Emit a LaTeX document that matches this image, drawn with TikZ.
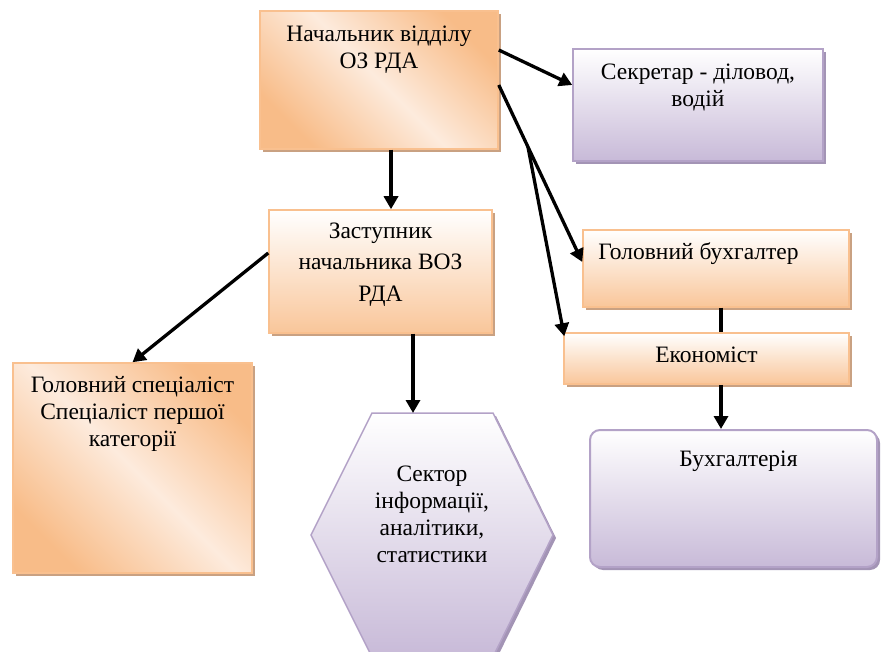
\documentclass[tikz,border=0pt]{standalone}
\usepackage{fontspec}
\setmainfont{Liberation Serif}
\usepackage{xcolor}
\usepackage{tikz}
\usetikzlibrary{shapes,arrows,positioning,calc,shadows,arrows.meta}

\definecolor{orgline}{HTML}{F9C08F}
\definecolor{orgdeep}{HTML}{F8BC88}
\definecolor{orglight}{HTML}{FDEBDD}
\definecolor{orgshadow}{HTML}{C9A182}
\definecolor{purline}{HTML}{B3A2C7}
\definecolor{purdeep}{HTML}{C8BAD8}
\definecolor{purshadow}{HTML}{A394B5}

\tikzset{
  obox/.style={rectangle, draw=orgline, line width=1.5pt,
    drop shadow={shadow xshift=3pt, shadow yshift=-3pt, fill=orgshadow, opacity=1}},
  odiag/.style={obox, top color=orgdeep, bottom color=orgdeep, middle color=orglight, shading angle=-45},
  overt/.style={obox, top color=white, bottom color=orgdeep!85},
  pshape/.style={draw=purline, line width=1.5pt, top color=white, bottom color=purdeep,
    drop shadow={shadow xshift=3pt, shadow yshift=-3pt, fill=purshadow, opacity=1}},
  pbox/.style={rectangle, pshape},
  lbl/.style={font=\fontsize{23.5}{27}\selectfont, align=center, inner sep=0pt, anchor=base},
  link/.style={line width=3.3pt, -{Triangle[length=13pt,width=14pt]}},
}

\begin{document}
\begin{tikzpicture}[x=1pt,y=-1pt]
    \useasboundingbox (0,0) rectangle (881,652);

    % Boxes
    \node[odiag, minimum width=238, minimum height=138] (head) at (379,80) {};
    \node[pbox, minimum width=250, minimum height=112] (secr) at (698,105) {};
    \node[overt, minimum width=223, minimum height=123] (zast) at (380.5,271.5) {};
    \node[overt, minimum width=266, minimum height=77] (gbuh) at (716,268.5) {};
    \node[overt, minimum width=285, minimum height=51] (econ) at (706.5,358.5) {};
    \node[odiag, minimum width=239, minimum height=210] (gspec) at (132.5,468) {};
    \node[pbox, rounded corners=10pt, line width=2pt, minimum width=287, minimum height=137] (buh) at (733.5,498.5) {};

    % Sector: hexagon, cut by the page edge
    \begin{scope}
        \clip (0,0) rectangle (881,652);
        \draw[pshape] (372,413) -- (493,413) -- (553,535) -- (493,657) -- (372,657) -- (311,535) -- cycle;
    \end{scope}
    \coordinate (sectop) at (413,413);

    % Texts (base = last line)
    \node[lbl] (headtxt) at ([yshift=-58pt]head.north) {Начальник відділу\\ОЗ РДА};
    \node[lbl] (secrtxt) at ([yshift=-58pt]secr.north) {Секретар - діловод,\\водій};
    \node[lbl, font=\fontsize{23.5}{31.5}\selectfont] (zasttxt) at ([yshift=-92pt]zast.north) {Заступник\\начальника ВОЗ\\РДА};
    \node[lbl, anchor=base west] (gbuhtxt) at ([xshift=16pt,yshift=-30pt]gbuh.north west) {Головний бухгалтер};
    \node[lbl] (econtxt) at ([yshift=-30pt]econ.north) {Економіст};
    \node[lbl] (gspectxt) at ([yshift=-84pt]gspec.north) {Головний спеціаліст\\Спеціаліст першої\\категорії};
    \node[lbl, font=\fontsize{23.5}{26.7}\selectfont] (sectortxt) at (432,562) {Сектор\\інформації,\\аналітики,\\статистики};
    \node[lbl] (buhtxt) at ([xshift=5pt,yshift=-37pt]buh.north) {Бухгалтерія};

    % Links
    \draw[link] ([yshift=30pt]head.east) -- ([yshift=20pt]secr.west);
    \draw[link] ([yshift=-5pt]head.east) -- ([yshift=6.5pt]gbuh.west);
    \coordinate (fork) at ($([yshift=-5pt]head.east)!0.35!([yshift=6.5pt]gbuh.west)$);
    \draw[link] (fork) -- ([xshift=1pt,yshift=-4pt]econ.north west);
    \draw[link] ([xshift=12pt]head.south) -- ([xshift=12pt]head.south |- zast.north);
    \draw[link] ([yshift=18.5pt]zast.west) -- (gspec.north);
    \draw[link] (zast.south -| sectop) -- (sectop);
    \draw[line width=3.3pt] ([xshift=5pt]gbuh.south) -- ([xshift=5pt]gbuh.south |- econ.north);
    \draw[link] ([xshift=14.5pt]econ.south) -- ([xshift=14.5pt]econ.south |- buh.north);
\end{tikzpicture}
\end{document}
